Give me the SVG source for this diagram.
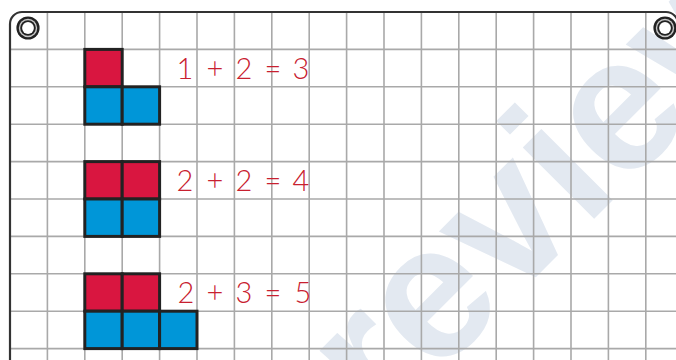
<svg xmlns="http://www.w3.org/2000/svg" width="676" height="360" viewBox="0 0 676 360">
<defs>
<style>
.wm{font-family:"Liberation Sans",Arial,sans-serif;font-weight:bold;font-size:191px;fill:#e3e9f1}
.grid{stroke:#a9a9a9;stroke-width:1.6;fill:none}
.border{stroke:#333;stroke-width:2.2;fill:none}
.red{fill:#d91640;stroke:#222;stroke-width:3}
.blue{fill:#0096d8;stroke:#222;stroke-width:3}
.eq{font-family:Lato,"Open Sans","Liberation Sans",sans-serif;font-weight:300;font-size:29px;fill:#c8202f;text-anchor:middle}
</style>
<g id="ring">
<circle r="11.6" fill="#222"/>
<circle r="9.2" fill="#c8c8c8"/>
<circle r="7.8" fill="#222"/>
<circle r="5.9" fill="#fff"/>
</g>
</defs>
<rect width="676" height="360" fill="#fff"/>
<text class="wm" transform="translate(551,262) rotate(-45)" text-anchor="middle">preview</text>
<path class="grid" d="M47.4,12V360M84.8,12V360M122.2,12V360M159.6,12V360M197,12V360M234.4,12V360M271.8,12V360M309.2,12V360M346.6,12V360M384,12V360M421.4,12V360M458.8,12V360M496.2,12V360M533.6,12V360M571,12V360M608.4,12V360M645.8,12V360M10,49.4H676M10,86.8H676M10,124.2H676M10,161.6H676M10,199H676M10,236.4H676M10,273.8H676M10,311.2H676M10,348.6H676"/>
<rect class="border" x="10" y="12" width="668" height="400" rx="12"/>
<use href="#ring" x="28" y="28"/>
<use href="#ring" x="665" y="28"/>
<g id="model1">
<rect class="red" x="84.8" y="49.4" width="37.4" height="37.4"/>
<rect class="blue" x="84.8" y="86.8" width="37.4" height="37.4"/>
<rect class="blue" x="122.2" y="86.8" width="37.4" height="37.4"/>
</g>
<g id="eq1" class="eq">
<text x="185" y="79">1</text><text x="215" y="79">+</text><text x="244" y="79">2</text><text x="273" y="79">=</text><text x="301" y="79">3</text>
</g>
<g id="model2">
<rect class="red" x="84.8" y="161.6" width="37.4" height="37.4"/>
<rect class="red" x="122.2" y="161.6" width="37.4" height="37.4"/>
<rect class="blue" x="84.8" y="199" width="37.4" height="37.4"/>
<rect class="blue" x="122.2" y="199" width="37.4" height="37.4"/>
</g>
<g id="eq2" class="eq">
<text x="185" y="191">2</text><text x="215" y="191">+</text><text x="244" y="191">2</text><text x="273" y="191">=</text><text x="301" y="191">4</text>
</g>
<g id="model3">
<rect class="red" x="84.8" y="273.8" width="37.4" height="37.4"/>
<rect class="red" x="122.2" y="273.8" width="37.4" height="37.4"/>
<rect class="blue" x="84.8" y="311.2" width="37.4" height="37.4"/>
<rect class="blue" x="122.2" y="311.2" width="37.4" height="37.4"/>
<rect class="blue" x="159.6" y="311.2" width="37.4" height="37.4"/>
</g>
<g id="eq3" class="eq">
<text x="186" y="303">2</text><text x="215" y="303">+</text><text x="244" y="303">3</text><text x="273" y="303">=</text><text x="303" y="303">5</text>
</g>
</svg>
